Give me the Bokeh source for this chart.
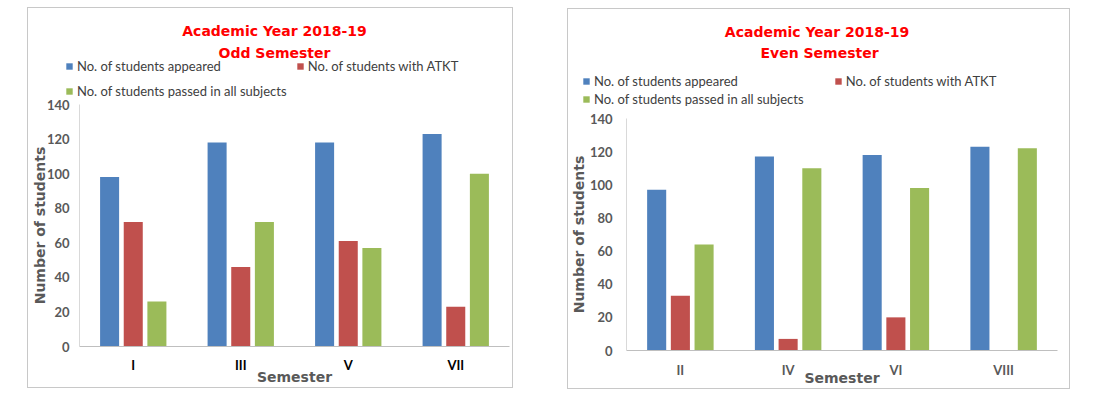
from bokeh.plotting import figure
from bokeh.models import (Range1d, Legend, LegendItem, Label, Spacer,
                          ColumnDataSource, FixedTicker)
from bokeh.transform import dodge
from bokeh.layouts import row, column
from bokeh.embed import file_html
from bokeh.resources import INLINE

# ---------------- data ----------------
odd_sem = ["I", "III", "V", "VII"]
odd_appeared = [98, 118, 118, 123]
odd_atkt = [72, 46, 61, 23]
odd_passed = [26, 72, 57, 100]

even_sem = ["II", "IV", "VI", "VIII"]
even_appeared = [97, 117, 118, 123]
even_atkt = [33, 7, 20, 0]
even_passed = [64, 110, 98, 122]

series_names = ["No. of students appeared", "No. of students with ATKT",
                "No. of students passed in all subjects"]
y_ticks = [0, 20, 40, 60, 80, 100, 120, 140]
odd_title = ["Academic Year 2018-19", "Odd Semester"]
even_title = ["Academic  Year 2018-19", "Even Semester"]

COLORS = ["#4F81BD", "#C0504D", "#9BBB59"]
TITLE_FONT = "DejaVu Sans"
BODY_FONT = "Lato"
Y_MAX = 140


def make_chart(cats, appeared, atkt, passed, titles, g):
    n = len(cats)
    pos = [i + 0.5 for i in range(n)]          # category slots on the x scale
    src = ColumnDataSource(dict(pos=pos, appeared=appeared, atkt=atkt, passed=passed))

    # The whole canvas is the plot frame; axes sit at fixed locations inside it
    ux = g["axis_w"] / n                        # px per category
    uy = g["axis_h"] / Y_MAX                    # px per student
    x_range = Range1d(-g["ax"] / ux, (g["w"] - g["ax"]) / ux)
    y_range = Range1d(-g["ab"] / uy, (g["h"] - g["ab"]) / uy)
    p = figure(width=g["w"], height=g["h"], x_range=x_range, y_range=y_range,
               output_backend="svg", toolbar_location=None, title=None,
               min_border_left=0, min_border_right=0, min_border_top=0, min_border_bottom=0,
               styles={"border": "1px solid #c8c8c8"})
    p.outline_line_color = None
    p.xgrid.grid_line_color = None
    p.ygrid.grid_line_color = None
    p.background_fill_color = "white"
    p.border_fill_color = "white"

    r = []
    for off, col, c in zip([-0.22, 0.0, 0.22], ["appeared", "atkt", "passed"], COLORS):
        r.append(p.vbar(x=dodge("pos", off), top=col, width=0.177,
                        source=src, fill_color=c, line_color=None))

    # value axis
    yax = p.yaxis[0]
    yax.fixed_location = 0
    yax.bounds = (0, Y_MAX)
    yax.ticker = FixedTicker(ticks=y_ticks)
    yax.major_tick_line_color = None
    yax.minor_tick_line_color = None
    yax.major_tick_out = 0
    yax.major_tick_in = 0
    yax.axis_line_color = "#d9d9d9"
    yax.major_label_text_font = BODY_FONT
    yax.major_label_text_font_style = "bold"
    yax.major_label_text_font_size = "13px"
    yax.major_label_text_color = "#595959"
    yax.major_label_standoff = g["ystand"]
    yax.axis_label = "Number of students"
    yax.axis_label_text_font = TITLE_FONT
    yax.axis_label_text_font_style = "bold"
    yax.axis_label_text_font_size = "14px"
    yax.axis_label_text_color = "#595959"
    yax.axis_label_standoff = g["ylstand"]

    # category axis
    xax = p.xaxis[0]
    xax.fixed_location = 0
    xax.bounds = (0, n)
    xax.ticker = FixedTicker(ticks=pos)
    xax.major_label_overrides = {v: c for v, c in zip(pos, cats)}
    xax.major_tick_line_color = None
    xax.minor_tick_line_color = None
    xax.major_tick_out = 0
    xax.major_tick_in = 0
    xax.axis_line_color = "#bfbfbf"
    xax.major_label_text_font = BODY_FONT
    xax.major_label_text_font_style = "bold"
    xax.major_label_text_font_size = "13px"
    xax.major_label_text_color = g["xcol"]
    xax.major_label_standoff = g["xstand"]
    xax.axis_label = "Semester"
    xax.axis_label_text_font = TITLE_FONT
    xax.axis_label_text_font_style = "bold"
    xax.axis_label_text_font_size = "14px"
    xax.axis_label_text_color = "#595959"
    xax.axis_label_standoff = g["xlstand"]

    # titles
    for t, yy in zip(titles, g["ty"]):
        p.add_layout(Label(x=g["tx"], y=g["h"] - yy, x_units="screen", y_units="screen",
                           text=t, text_align="center", text_baseline="middle",
                           text_color="#FF0000", text_font=TITLE_FONT,
                           text_font_style="bold", text_font_size="14px"))

    # legend (two rows)
    common = dict(padding=0, margin=0, border_line_color=None, background_fill_alpha=0,
                  glyph_width=8, glyph_height=8, label_standoff=4, label_height=14,
                  label_text_font=BODY_FONT, label_text_font_size="13px",
                  label_text_color="#404040", orientation="horizontal")
    lx, r1, r2 = g["leg"]
    leg1 = Legend(items=[LegendItem(label=series_names[0], renderers=[r[0]]),
                         LegendItem(label=series_names[1], renderers=[r[1]])],
                  location=(lx, g["h"] - r1 - 7), spacing=g["lsp"], **common)
    leg2 = Legend(items=[LegendItem(label=series_names[2], renderers=[r[2]])],
                  location=(lx, g["h"] - r2 - 7), **common)
    p.add_layout(leg1, "center")
    p.add_layout(leg2, "center")
    return p


# geometry in px: axis origin offsets (ax from left, ab from bottom), axis lengths
g_left = dict(w=486, h=381, ax=51, ab=43, axis_w=430, axis_h=242,
              ystand=10, ylstand=-4, xstand=10, xlstand=-7, xcol="#000000",
              tx=246, ty=[22, 44], leg=(37, 59, 84), lsp=75)
g_right = dict(w=503, h=381, ax=58, ab=40, axis_w=431, axis_h=232,
               ystand=14, ylstand=0, xstand=11, xlstand=-11, xcol="#595959",
               tx=251, ty=[22, 43], leg=(14, 73, 91), lsp=96)

p1 = make_chart(odd_sem, odd_appeared, odd_atkt, odd_passed, odd_title, g_left)
p2 = make_chart(even_sem, even_appeared, even_atkt, even_passed, even_title, g_right)

layout = column(Spacer(width=10, height=7),
                row(Spacer(width=27, height=10), p1, Spacer(width=54, height=10),
                    column(Spacer(width=10, height=1), p2)))
open("out.html", "w").write(file_html(layout, INLINE))
